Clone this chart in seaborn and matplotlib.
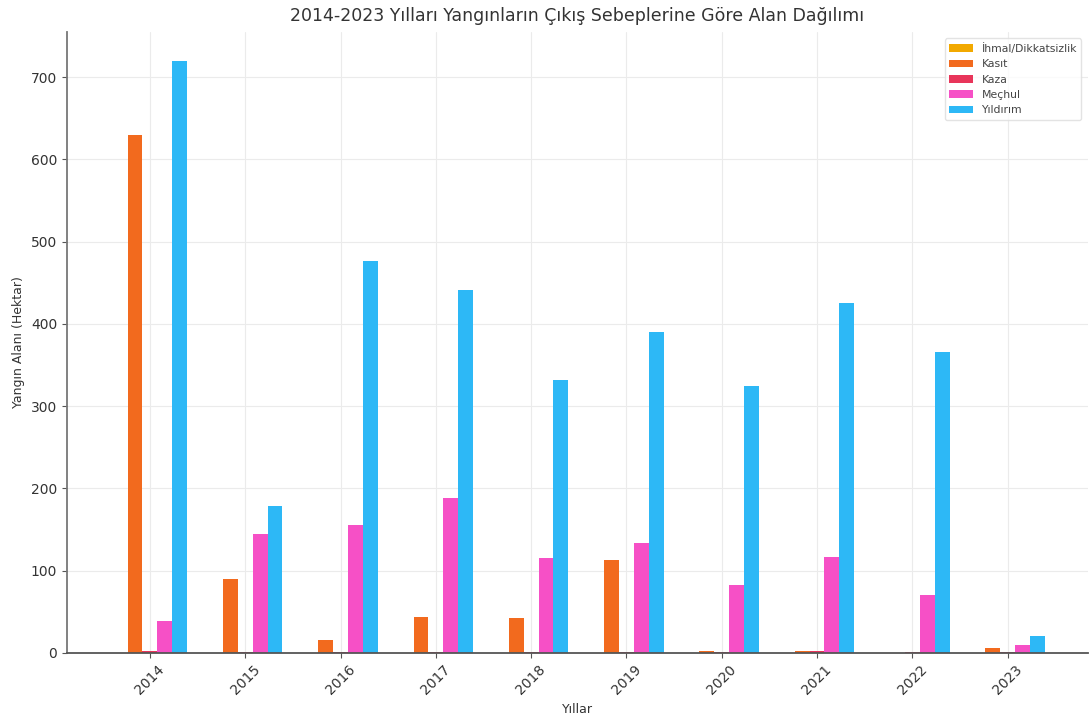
import matplotlib
matplotlib.use("Agg")
import matplotlib.pyplot as plt
import seaborn as sns
import pandas as pd

# Yıllara göre yangın alanı (hektar), çıkış sebebine göre
years = ["2014", "2015", "2016", "2017", "2018", "2019", "2020", "2021", "2022", "2023"]
causes = ["İhmal/Dikkatsizlik", "Kasıt", "Kaza", "Meçhul", "Yıldırım"]

ihmal = [0, 0, 0, 0, 0, 0, 0, 0, 0, 0]
kasit = [630, 90, 16, 44, 42, 113, 2, 3, 0, 6]
kaza = [3, 1, 1, 1, 1, 1, 1, 2, 1, 1]
mechul = [39, 145, 155, 189, 116, 134, 83, 117, 71, 10]
yildirim = [720, 179, 476, 441, 332, 390, 325, 425, 366, 21]

colors = ["#F2A900", "#F26A1E", "#E8355A", "#F650C6", "#2DB8F6"]

series = [ihmal, kasit, kaza, mechul, yildirim]
df = pd.DataFrame(
    [(y, c, v) for c, vals in zip(causes, series) for y, v in zip(years, vals)],
    columns=["Yıl", "Sebep", "Alan"],
)

sns.set_theme(style="white")
plt.rcParams["font.family"] = ["DejaVu Sans"]

fig = plt.figure(figsize=(10.91, 7.22), dpi=100)
ax = fig.add_axes([0.0614, 0.0956, 0.9356, 0.8601])

sns.barplot(
    data=df, x="Yıl", y="Alan", hue="Sebep", order=years, hue_order=causes,
    palette=dict(zip(causes, colors)), width=0.78, saturation=1, errorbar=None,
    linewidth=0, ax=ax,
)

ax.set_xlim(-0.87, 9.84)
ax.set_ylim(0, 755)
ax.set_yticks(range(0, 701, 100))
ax.grid(True, color="#ebebeb", linewidth=0.8)
ax.set_axisbelow(True)

for side in ["top", "right"]:
    ax.spines[side].set_visible(False)
ax.spines["left"].set_color("#777777")
ax.spines["left"].set_linewidth(1.3)
ax.spines["bottom"].set_color("#555555")
ax.spines["bottom"].set_linewidth(1.3)

ax.tick_params(axis="both", which="both", direction="out", length=3.5, width=0.8,
               color="#555555", labelsize=10, labelcolor="#333333", left=True, bottom=True)
plt.setp(ax.get_xticklabels(), rotation=45)

ax.set_title("2014-2023 Yılları Yangınların Çıkış Sebeplerine Göre Alan Dağılımı",
             fontsize=12.5, color="#333333", pad=8)
ax.set_xlabel("Yıllar", fontsize=9, color="#333333")
ax.set_ylabel("Yangın Alanı (Hektar)", fontsize=9, color="#333333")

handles, labels = ax.get_legend_handles_labels()
ax.legend(handles, labels, loc="upper right", fontsize=7.8, frameon=True,
          edgecolor="#dddddd", fancybox=True, handlelength=2.2, labelcolor="#444444",
          borderaxespad=0.6)

fig.savefig("out.png", dpi=100)
